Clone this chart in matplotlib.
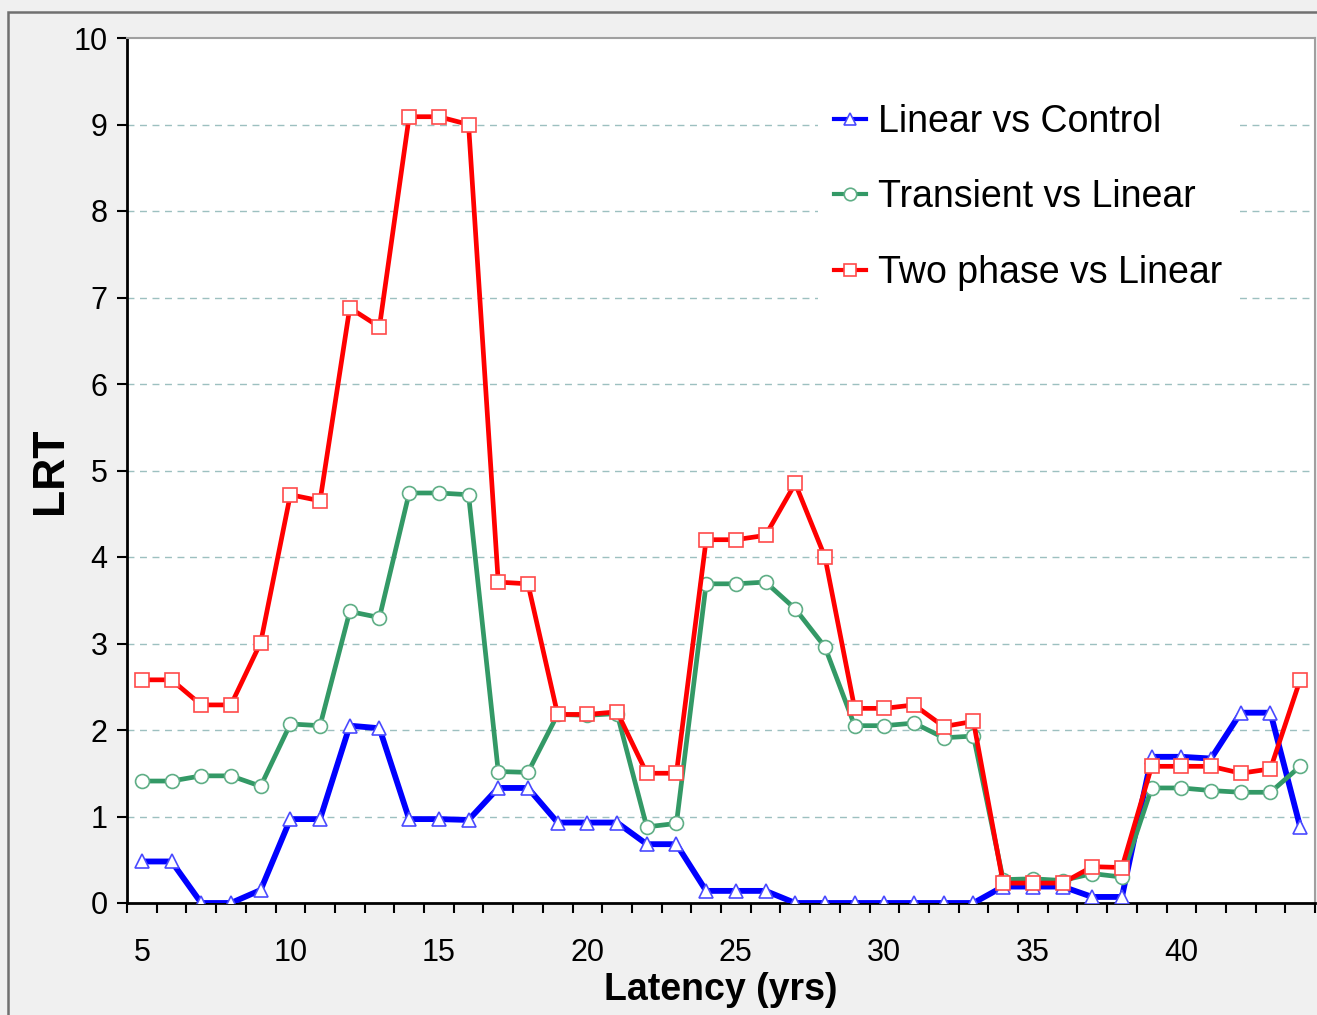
import numpy as np
import matplotlib
matplotlib.use('Agg')
import matplotlib.pyplot as plt
from matplotlib.patches import Rectangle

plt.rcParams['font.family'] = ['Liberation Sans', 'DejaVu Sans']

# 潜伏期（年）
latency = list(range(5, 45))

# Linear vs Control
linear_vs_control = [
    0.48, 0.48, 0.0, 0.0, 0.15, 0.97, 0.97, 2.05, 2.02, 0.97,
    0.97, 0.96, 1.33, 1.33, 0.93, 0.93, 0.93, 0.68, 0.68, 0.14,
    0.14, 0.14, 0.0, 0.0, 0.0, 0.0, 0.0, 0.0, 0.0, 0.19,
    0.19, 0.19, 0.07, 0.07, 1.69, 1.69, 1.67, 2.20, 2.20, 0.88,
]

# Transient vs Linear
transient_vs_linear = [
    1.41, 1.41, 1.47, 1.47, 1.35, 2.07, 2.05, 3.37, 3.30, 4.74,
    4.74, 4.72, 1.52, 1.51, 2.18, 2.17, 2.19, 0.88, 0.92, 3.69,
    3.69, 3.71, 3.40, 2.96, 2.05, 2.05, 2.08, 1.91, 1.93, 0.27,
    0.28, 0.26, 0.34, 0.30, 1.33, 1.33, 1.30, 1.28, 1.28, 1.58,
]

# Two phase vs Linear
two_phase_vs_linear = [
    2.58, 2.58, 2.29, 2.29, 3.01, 4.72, 4.65, 6.88, 6.66, 9.09,
    9.09, 9.00, 3.71, 3.69, 2.18, 2.18, 2.21, 1.50, 1.50, 4.20,
    4.20, 4.25, 4.85, 4.00, 2.25, 2.25, 2.29, 2.04, 2.10, 0.23,
    0.23, 0.23, 0.42, 0.41, 1.58, 1.58, 1.58, 1.50, 1.55, 2.58,
]

labels = ['Linear vs Control', 'Transient vs Linear', 'Two phase vs Linear']

W, H = 1317, 1015
fig = plt.figure(figsize=(W / 100, H / 100), dpi=100, facecolor='#f0f0f0')

# 外枠（スクリーンショット風の枠線）
fig.patches.append(Rectangle((8 / W, -0.1), 2, 1.1 - 12 / H, transform=fig.transFigure,
                             fill=False, edgecolor='#707070', linewidth=1.8))

ax = fig.add_axes([127 / W, 1 - 903 / H, (1315 - 127) / W, (903 - 38) / H])
ax.set_facecolor('white')

ax.plot(latency, linear_vs_control, color='#0000ff', lw=4.2, marker='^', ms=10,
        mfc='white', mec='#4a4aff', mew=1.2, label=labels[0], zorder=3)
ax.plot(latency, transient_vs_linear, color='#339966', lw=3.4, marker='o', ms=10,
        mfc='white', mec='#5fae86', mew=1.2, label=labels[1], zorder=3)
ax.plot(latency, two_phase_vs_linear, color='#ff0000', lw=3.4, marker='s', ms=10,
        mfc='white', mec='#ff4a4a', mew=1.2, label=labels[2], zorder=3)

ax.set_xlim(4.5, 44.5)
ax.set_ylim(0, 10)

# グリッド
for yv in range(1, 10):
    ax.axhline(yv, color='#9dc0c0', lw=1.0, ls=(0, (5, 4)), zorder=1)

ax.set_yticks(range(0, 11))
ax.set_xticks(range(5, 45, 5))
ax.set_xticks(np.arange(4.5, 45, 1.0), minor=True)
ax.tick_params(axis='x', which='major', length=0, labelsize=22, pad=25)
ax.tick_params(axis='x', which='minor', length=7, width=1.5, direction='out', color='black')
ax.tick_params(axis='y', length=7, width=1.5, direction='out', labelsize=22, pad=7)

for side in ['left', 'bottom']:
    ax.spines[side].set_color('black')
    ax.spines[side].set_linewidth(2)
for side in ['top', 'right']:
    ax.spines[side].set_color('#a0a0a0')
    ax.spines[side].set_linewidth(1.5)

ax.set_xlabel('Latency (yrs)', fontsize=27, fontweight='bold', labelpad=3)
ax.set_ylabel('LRT', fontsize=32, fontweight='bold', labelpad=2)

leg = ax.legend(loc='upper left', bbox_to_anchor=(0.5655, 0.965), fontsize=27,
                frameon=True, fancybox=False, framealpha=1, facecolor='white',
                edgecolor='none', handlelength=0.85, handletextpad=0.3,
                labelspacing=1.05, borderpad=0.45, markerscale=0.9)
for line in leg.get_lines():
    line.set_linewidth(3)
leg.set_zorder(5)

fig.savefig('out.png', dpi=100, facecolor=fig.get_facecolor())
